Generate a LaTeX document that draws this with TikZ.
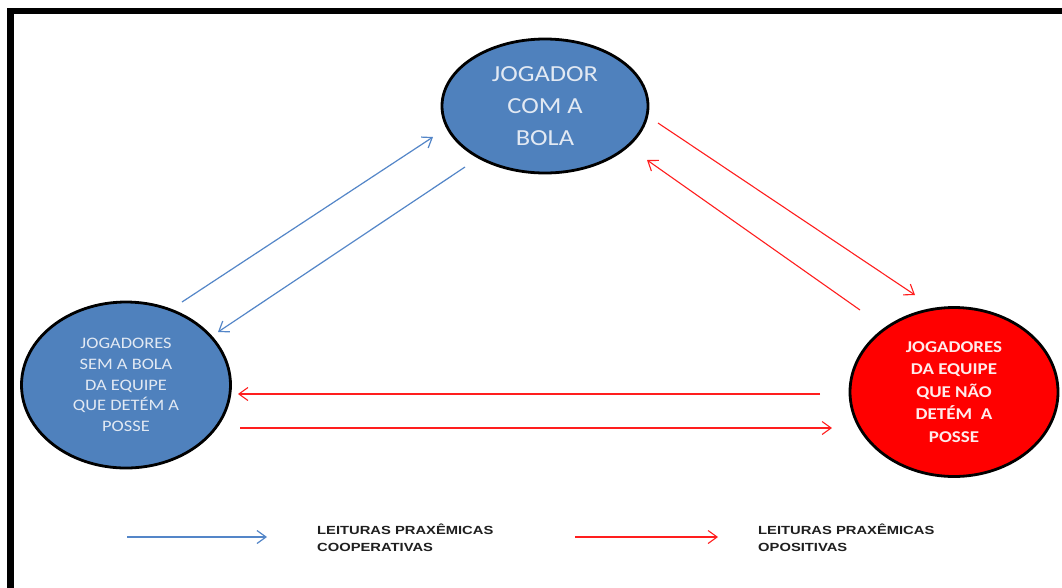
\documentclass[tikz,border=0pt]{standalone}
\usepackage{fontspec}
\usetikzlibrary{shapes.geometric,arrows.meta}
\newfontfamily\ovalfont[FakeStretch=1.15]{Carlito}
\newfontfamily\keyfont[FakeStretch=1.25]{Liberation Sans}
\definecolor{officeblue}{RGB}{79,129,189}
\definecolor{linkblue}{RGB}{84,134,200}
\definecolor{linkred}{RGB}{255,30,30}
\definecolor{paletext}{RGB}{226,233,243}
\begin{document}
\begin{tikzpicture}[x=1pt,y=-1pt,
  oval/.style={ellipse,draw=black,line width=2.8pt,inner sep=0pt,align=center},
  coop/.style={draw=linkblue,line width=1.2pt,-{Straight Barb[length=9pt,width=13pt,line width=1.2pt]}},
  opos/.style={draw=linkred,line width=1.1pt,-{Straight Barb[length=9pt,width=13pt,line width=1.1pt]}},
  keytext/.style={anchor=north west,align=left,inner sep=0pt,text=black!88,
    font=\keyfont\bfseries\fontsize{11.8}{17}\selectfont}]
\useasboundingbox (0,0) rectangle (1062,587);
\fill[white] (0,0) rectangle (1062,587);
% frame (only top and left edges fall inside the page)
\draw[line width=6.5pt] (10.5,600) -- (10.5,11) -- (1080,11);

% the three groups of players
\node[oval,fill=officeblue,minimum width=206pt,minimum height=134pt,text=paletext,
  font=\ovalfont\fontsize{23}{32}\selectfont] (ball) at (545,106)
  {JOGADOR\\COM A\\BOLA};
\node[oval,fill=officeblue,minimum width=209pt,minimum height=166pt,text=paletext,
  font=\ovalfont\fontsize{16}{20.7}\selectfont] (mates) at (126,385)
  {JOGADORES\\SEM A BOLA\\DA EQUIPE\\QUE DETÉM A\\POSSE};
\node[oval,fill=red,minimum width=208pt,minimum height=169pt,text=white!92!red,
  font=\ovalfont\bfseries\fontsize{16.5}{22.5}\selectfont] (rivals) at (954,392)
  {JOGADORES\\DA EQUIPE\\QUE NÃO\\DETÉM~~A\\POSSE};

% arrow end points beside the ovals
\coordinate (m1) at (182,302);  \coordinate (b1) at (433,137);
\coordinate (b2) at (465,167);  \coordinate (m2) at (218,332);
\coordinate (b3) at (658,123);  \coordinate (r3) at (915,295);
\coordinate (r4) at (860,310);  \coordinate (b4) at (647,160);
\coordinate (r5) at (820,394);  \coordinate (m5) at (238,394);
\coordinate (m6) at (240,428);  \coordinate (r6) at (832,428);

\draw[coop] (m1) -- (b1);
\draw[coop] (b2) -- (m2);
\draw[opos] (b3) -- (r3);
\draw[opos] (r4) -- (b4);
\draw[opos] (r5) -- (m5);
\draw[opos] (m6) -- (r6);

% legend
\coordinate (k1a) at (127,537); \coordinate (k1b) at (267,537);
\coordinate (k2a) at (575,537); \coordinate (k2b) at (718,537);
\draw[coop] (k1a) -- (k1b);
\draw[opos] (k2a) -- (k2b);
\node[keytext] (kcoop) at (317,524) {LEITURAS PRAXÊMICAS\\COOPERATIVAS};
\node[keytext] (kopos) at (758,524) {LEITURAS PRAXÊMICAS\\OPOSITIVAS};
\end{tikzpicture}
\end{document}
